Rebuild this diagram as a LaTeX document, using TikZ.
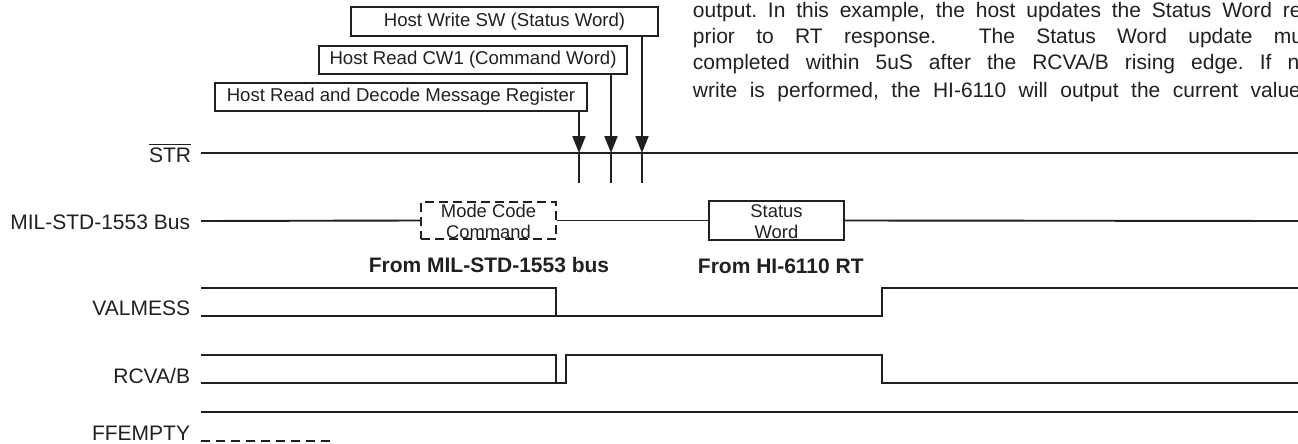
\documentclass[tikz,border=0pt]{standalone}
\usepackage{fontspec}
\setmainfont{Liberation Sans}
\usetikzlibrary{arrows.meta}
\definecolor{ink}{HTML}{231F20}
\newcommand{\barredtxt}[1]{\begingroup\setbox0\hbox{#1}\rlap{\rule[17pt]{\wd0}{1.5pt}}\box0\endgroup}
\begin{document}
\frenchspacing
\begin{tikzpicture}[x=1pt,y=-1pt,line width=1.9pt,color=ink,
  hostbox/.style={draw=ink,line width=1.9pt,inner sep=0pt,font=\fontsize{18.6}{21}\selectfont},
  busbox/.style={draw=ink,line width=1.9pt,inner sep=0pt,minimum width=135pt},
  lbl/.style={anchor=base east,inner sep=0pt,font=\fontsize{21}{24}\selectfont},
  boxtxt/.style={anchor=base,inner sep=0pt,font=\fontsize{18.4}{21}\selectfont},
  boldtxt/.style={anchor=base,inner sep=0pt,font=\bfseries\fontsize{21}{24}\selectfont},
  para/.style={anchor=base west,inner sep=0pt,font=\fontsize{21}{26}\selectfont},
  arr/.style={-{Triangle[length=17pt,width=13pt]}}]
\useasboundingbox (0,0) rectangle (1298,444);

% paragraph (clipped at the right edge, as in the reference)
\begin{scope}
\clip (0,0) rectangle (1298,444);
\node[para] (p1) at (692,18) {\makebox[660pt][s]{output. In this example, the host updates the Status Word register}};
\node[para] (p2) at (692,44) {\makebox[626.5pt][s]{prior to RT response.~~The Status Word update must}};
\node[para] (p3) at (692,70) {\makebox[618pt][s]{completed within 5uS after the RCVA/B rising edge. If no}};
\node[para] (p4) at (692,97) {\makebox[608pt][s]{write is performed, the HI-6110 will output the current value}};
\end{scope}

% host boxes
\node[hostbox,minimum width=307pt,minimum height=29pt] (sw) at (504.5,21.5) {Host Write SW (Status Word)};
\node[hostbox,minimum width=308pt,minimum height=28pt] (cw) at (473,60) {Host Read CW1 (Command Word)};
\node[hostbox,minimum width=372pt,minimum height=28pt] (dec) at (401,97) {Host Read and Decode Message Register};

% STR
\node[lbl] (strl) at (192,162) {\barredtxt{STR}};
\draw (201,153) -- (1298,153);
\coordinate (s1) at (579,153);
\coordinate (s2) at (611,153);
\coordinate (s3) at (642,153);
\draw[arr] (dec.south -| s1) -- (s1);
\draw[arr] (cw.south -| s2) -- (s2);
\draw[arr] (sw.south -| s3) -- (s3);
\draw (s1) -- ++(0,30);
\draw (s2) -- ++(0,30);
\draw (s3) -- ++(0,30);

% MIL-STD-1553 bus
\node[lbl] (busl) at (191,229) {MIL-STD-1553 Bus};
\node[busbox,minimum height=37pt,dash pattern=on 9pt off 5pt] (mcc) at (488.5,220.5) {};
\node[busbox,minimum height=39pt] (stw) at (776.5,220.5) {};
\node[boxtxt] (mcct1) at (488.5,217) {Mode Code};
\node[boxtxt] (mcct2) at (488.5,238) {Command};
\node[boxtxt] (stwt1) at (776.5,217) {Status};
\node[boxtxt] (stwt2) at (776.5,238) {Word};
\draw (201,221) -- (mcc.west);
\draw (mcc.east) -- (stw.west);
\draw (stw.east) -- (1298,221);
\node[boldtxt] (frommil) at (489,272) {From MIL-STD-1553 bus};
\node[boldtxt,anchor=base west] (fromhi) at (697,273) {From HI-6110 RT};

% VALMESS
\node[lbl] (vall) at (191,315) {VALMESS};
\draw (201,288) -- (556,288) -- (556,316);
\draw (201,316) -- (882,316) -- (882,288) -- (1298,288);

% RCVA/B
\node[lbl] (rcvl) at (191,383) {RCVA/B};
\draw (201,355) -- (556,355) -- (556,383);
\draw (201,383) -- (566,383) -- (566,355) -- (882,355) -- (882,383) -- (1298,383);

% FFEMPTY
\node[lbl] (ffl) at (191,440) {FFEMPTY};
\draw (201,412) -- (1298,412);
\draw[dash pattern=on 9pt off 6pt] (201,441) -- (333,441);
\end{tikzpicture}
\end{document}
